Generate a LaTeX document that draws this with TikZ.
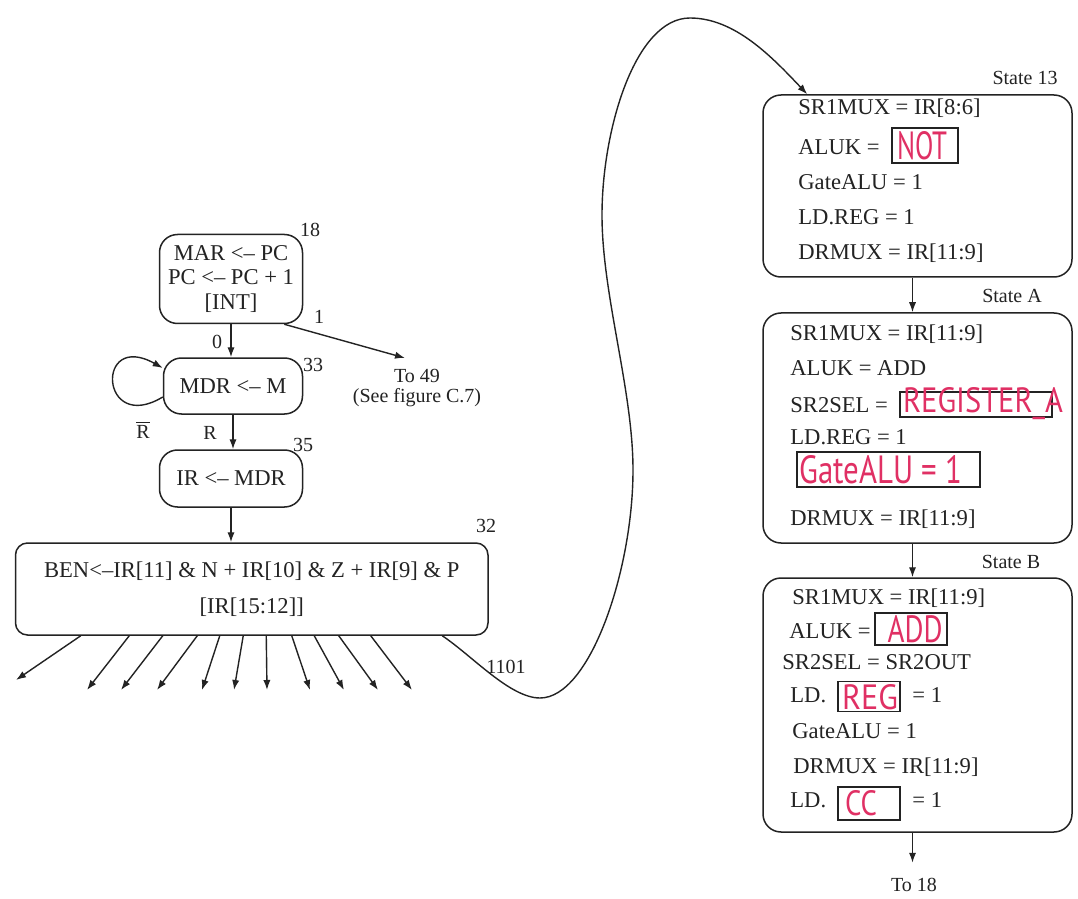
\documentclass[tikz,border=0pt]{standalone}
\usepackage{fontspec}
\usepackage{graphicx}
\setmainfont{Liberation Serif}
\newfontfamily\handfont{PT Sans}
\usetikzlibrary{arrows.meta,calc}
\definecolor{hand}{RGB}{224,48,100}
\definecolor{ink}{RGB}{35,35,35}
\newcommand\mainsz{\fontsize{11.3}{12.3}\selectfont}
\newcommand\smallsz{\fontsize{10}{11}\selectfont}
\newcommand\handtxt[3]{\resizebox{#1}{#2}{\handfont #3}}
\tikzset{
  lbox/.style={draw=ink, line width=0.75pt, rounded corners=9pt, align=center, font=\mainsz, text=ink, inner sep=0pt},
  sbox/.style={draw=ink, line width=0.75pt, rounded corners=9pt, inner sep=0pt},
  txt/.style={font=\mainsz, inner sep=0pt, anchor=west, text=ink, text height=7.5pt, text depth=0pt},
  lab/.style={font=\smallsz, inner sep=0pt, text=ink},
  hbox/.style={draw=ink, line width=0.6pt, inner sep=0pt},
  htxt/.style={text=hand, inner sep=0pt},
  arr/.style={draw=ink, line width=0.7pt, -{Latex[length=5pt,width=3.6pt]}},
}
\begin{document}
\begin{tikzpicture}[x=0.5pt, y=-0.5pt]
\useasboundingbox[fill=white] (0,0) rectangle (1078,899);

% ---------- left column ----------
\node[lbox, minimum width=71.5pt, minimum height=44.5pt] (b18) at (231,279) {MAR <\textendash{} PC\\PC <\textendash{} PC + 1\\{[INT]}};
\node[lbox, minimum width=69.5pt, minimum height=28pt] (b33) at (233,386) {MDR <\textendash{} M};
\node[lbox, minimum width=71.5pt, minimum height=28.5pt] (b35) at (231,478.5) {IR <\textendash{} MDR};
\node[lbox, rounded corners=6pt, minimum width=236.25pt, minimum height=46pt, font=\fontsize{11.3}{18}\selectfont] (b32) at (251.75,589)
  {BEN<\textendash{}IR[11] \& N + IR[10] \& Z + IR[9] \& P\\{[IR[15:12]]}};

\node[lab] (l18) at (310,230) {18};
\node[lab] (l33) at (313,365) {33};
\node[lab] (l35) at (303,445) {35};
\node[lab] (l32) at (486,526) {32};
\node[lab] (l0) at (217,342) {0};
\node[lab] (l1) at (319,317) {1};
\node[lab] (lR) at (210,433) {R};
\node[lab] (lRb) at (143,430) {$\overline{\hbox{R}}$};
\node[lab, align=center, font=\fontsize{10}{10}\selectfont] (to49) at (417,388) {To 49\\(See figure C.7)};
\node[lab] (l1101) at (506,667) {1101};

\draw[arr] (b18.south) -- (b18.south |- b33.north);
\draw[arr] (b33.south) -- (b33.south |- b35.north);
\draw[arr] (b35.south) -- (b35.south |- b32.north);
\coordinate (t49) at (405,358);
\draw[arr] ($(b18.south east)+(-19,0)$) -- (t49);
\draw[arr] ($(b33.west)+(0,11)$) .. controls +(-63,38) and +(-68,-38) .. ($(b33.west)+(0,-18)$);

\foreach \s/\e/\f [count=\i] in {81.5/16/680, 130/87/690, 163.5/121/690, 198/157/690, 220.5/202/690, 244/234/690, 267/267/690, 292.5/310/690, 315/344/690, 339.5/378/690, 371.5/412/690}
{
  \coordinate (fan\i) at (\e,\f);
  \draw[arr] ($(b32.south west)+({\s-15.5},0)$) -- (fan\i);
}

% ---------- right column ----------
\node[sbox, minimum width=154.5pt, minimum height=91pt] (b13) at (917.5,186) {};
\node[sbox, minimum width=154.5pt, minimum height=115pt] (bA) at (917.5,428) {};
\node[sbox, minimum width=154.5pt, minimum height=127pt] (bB) at (917.5,705) {};

\node[lab] (s13) at (1025,78) {State 13};
\node[lab] (sA) at (1012,296) {State A};
\node[lab] (sB) at (1011,562) {State B};
\node[lab] (to18) at (914,885) {To 18};

% state 13
\node[txt] (a1) at (798,107) {SR1MUX = IR[8:6]};
\node[txt] (a2) at (798,147) {ALUK =};
\node[hbox, minimum width=33pt, minimum height=17.5pt] (hNOT) at (925,145.5) {};
\node[htxt] (tNOT) at (922,146) {\handtxt{25pt}{14pt}{NOT}};
\node[txt] (a3) at (798,182) {GateALU = 1};
\node[txt] (a4) at (798,217) {LD.REG = 1};
\node[txt] (a5) at (798,252) {DRMUX = IR[11:9]};

% state A
\node[txt] (b1) at (790,333) {SR1MUX = IR[11:9]};
\node[txt] (b2) at (790,368) {ALUK = ADD};
\node[txt] (b3) at (790,405) {SR2SEL =};
\node[hbox, minimum width=76pt, minimum height=12.5pt] (hREGA) at (976,404.5) {};
\node[htxt] (tREGA) at (983,404) {\handtxt{80pt}{12.5pt}{REGISTER\_A}};
\node[txt] (b4) at (790,437) {LD.REG = 1};
\node[hbox, minimum width=91.5pt, minimum height=17.5pt] (hGATE) at (888.5,469.5) {};
\node[htxt] (tGATE) at (881,470) {\handtxt{81.5pt}{14pt}{GateALU = 1}};
\node[txt] (b5) at (790,518) {DRMUX = IR[11:9]};

% state B
\node[txt] (c1) at (792,597) {SR1MUX = IR[11:9]};
\node[txt] (c2) at (789,631) {ALUK =};
\node[hbox, minimum width=36pt, minimum height=16pt] (hADD) at (911,629) {};
\node[htxt] (tADD) at (915,629.5) {\handtxt{27.5pt}{13.5pt}{ADD}};
\node[txt] (c3) at (782,662) {SR2SEL = SR2OUT};
\node[txt] (c4) at (790,695) {LD.};
\node[hbox, minimum width=31pt, minimum height=15pt] (hREG) at (869,696.5) {};
\node[htxt] (tREG) at (870,697) {\handtxt{28pt}{12.5pt}{REG}};
\node[txt] (c5) at (912,695) {= 1};
\node[txt] (c6) at (792,731) {GateALU = 1};
\node[txt] (c7) at (793,766) {DRMUX = IR[11:9]};
\node[txt] (c8) at (790,800) {LD.};
\node[hbox, minimum width=31pt, minimum height=16.5pt] (hCC) at (869,803.5) {};
\node[htxt] (tCC) at (861,803) {\handtxt{16pt}{12.5pt}{CC}};
\node[txt] (c9) at (912,800) {= 1};

\draw[arr] ($(b13.south)+(-5,0)$) -- ($(bA.north)+(-5,0)$);
\draw[arr] ($(bA.south)+(-5,0)$) -- ($(bB.north)+(-5,0)$);
\coordinate (e18) at ($(bB.south)+(-5,30)$);
\draw[arr] ($(bB.south)+(-5,0)$) -- (e18);

% ---------- 1101 connector ----------
\coordinate (c1101s) at ($(b32.south west)+(427.5,0)$);
\coordinate (c1101e) at ($(b13.north west)+(45,0)$);
\coordinate (w1) at (540,698);
\coordinate (w2) at (633,470);
\coordinate (w3) at (602,215);
\coordinate (w4) at (690,18);
\draw[arr] (c1101s) .. controls +(30,20) and +(-30,0) .. (w1)
  .. controls +(50,0) and +(0,100) .. (w2)
  .. controls +(0,-80) and +(0,80) .. (w3)
  .. controls +(0,-85) and +(-55,0) .. (w4)
  .. controls +(45,0) and +(-35,-37) .. (c1101e);
\end{tikzpicture}
\end{document}
